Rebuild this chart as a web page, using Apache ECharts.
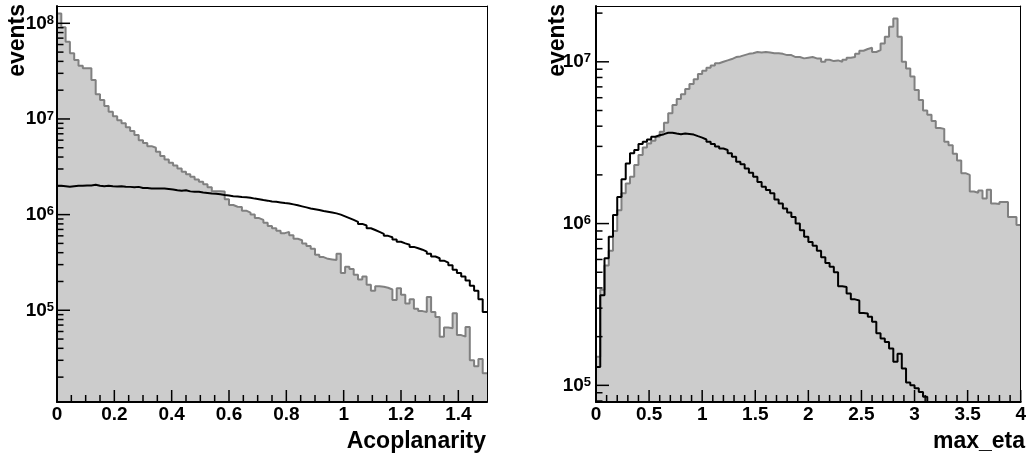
<!DOCTYPE html>
<html>
<head>
<meta charset="utf-8">
<script src="https://cdn.jsdelivr.net/npm/echarts@6.0.0/dist/echarts.min.js"></script>
<style>
html, body { margin: 0; padding: 0; background: #fff; }
#chart { width: 1029px; height: 455px; }
</style>
</head>
<body>
<div id="chart"></div>
<script>
// Acoplanarity: 100 bins from 0 to 1.5
var acoStart = 0
var acoWidth = 0.015
var acoGrey = [
	1.27e8, 9.1e7, 6.4e7, 4.85e7, 4.13e7, 3.6e7, 3.4e7, 3.38e7, 2.55e7, 1.81e7,
	1.58e7, 1.37e7, 1.19e7, 1.07e7, 9.7e6, 9.0e6, 8.2e6, 7.5e6, 6.8e6, 6.0e6,
	5.6e6, 5.2e6, 5.0e6, 4.55e6, 4.1e6, 3.78e6, 3.48e6, 3.27e6, 3.04e6, 2.8e6,
	2.65e6, 2.49e6, 2.33e6, 2.2e6, 2.08e6, 1.93e6, 1.76e6, 1.76e6, 1.74e6, 1.45e6,
	1.26e6, 1.21e6, 1.2e6, 1.1e6, 1.05e6, 1.0e6, 9.2e5, 8.8e5, 8.2e5, 7.6e5,
	7.2e5, 6.8e5, 6.4e5, 6.6e5, 6.1e5, 5.6e5, 5.4e5, 5.0e5, 4.7e5, 4.4e5,
	3.8e5, 3.6e5, 3.45e5, 3.4e5, 3.35e5, 3.9e5, 2.45e5, 2.85e5, 2.7e5, 2.35e5,
	2.1e5, 2.25e5, 1.85e5, 1.6e5, 1.78e5, 1.76e5, 1.72e5, 1.65e5, 1.28e5, 1.7e5,
	1.45e5, 1.18e5, 1.3e5, 1.04e5, 9.8e4, 9.6e4, 1.38e5, 9.6e4, 8.5e4, 5.3e4,
	6.6e4, 6.5e4, 9.3e4, 5.5e4, 5.3e4, 6.7e4, 3.0e4, 2.6e4, 3.1e4, 2.2e4
]
var acoBlack = [
	2.0e6, 1.98e6, 1.96e6, 1.98e6, 2.0e6, 2.0e6, 2.02e6, 2.02e6, 2.05e6, 2.0e6,
	1.98e6, 2.0e6, 1.98e6, 1.97e6, 1.98e6, 1.96e6, 1.95e6, 1.93e6, 1.95e6, 1.9e6,
	1.9e6, 1.88e6, 1.88e6, 1.88e6, 1.87e6, 1.85e6, 1.83e6, 1.8e6, 1.78e6, 1.8e6,
	1.75e6, 1.73e6, 1.73e6, 1.7e6, 1.68e6, 1.66e6, 1.65e6, 1.63e6, 1.6e6, 1.58e6,
	1.56e6, 1.55e6, 1.53e6, 1.52e6, 1.5e6, 1.47e6, 1.45e6, 1.42e6, 1.4e6, 1.37e6,
	1.36e6, 1.34e6, 1.32e6, 1.31e6, 1.28e6, 1.25e6, 1.22e6, 1.19e6, 1.16e6, 1.14e6,
	1.12e6, 1.09e6, 1.07e6, 1.05e6, 1.03e6, 1.0e6, 9.6e5, 9.2e5, 8.8e5, 8.4e5,
	8.0e5, 7.7e5, 7.2e5, 6.9e5, 6.6e5, 6.3e5, 6.0e5, 5.8e5, 5.5e5, 5.2e5,
	5.0e5, 4.85e5, 4.6e5, 4.45e5, 4.3e5, 4.1e5, 3.9e5, 3.65e5, 3.5e5, 3.3e5,
	3.15e5, 2.95e5, 2.65e5, 2.45e5, 2.25e5, 2.05e5, 1.8e5, 1.6e5, 1.3e5, 9.6e4
]

// max_eta: 100 bins from 0 to 4
var etaStart = 0
var etaWidth = 0.04
var etaGrey = [
	1.5e5, 3.9e5, 5.5e5, 6.8e5, 9.0e5, 1.21e6, 1.54e6, 1.77e6, 1.95e6, 2.3e6,
	2.65e6, 2.95e6, 3.13e6, 3.25e6, 3.44e6, 3.7e6, 4.2e6, 4.8e6, 5.4e6, 5.9e6,
	6.3e6, 6.8e6, 7.3e6, 7.8e6, 8.4e6, 8.8e6, 9.2e6, 9.5e6, 9.8e6, 1.0e7,
	1.02e7, 1.04e7, 1.07e7, 1.08e7, 1.1e7, 1.12e7, 1.13e7, 1.15e7, 1.14e7, 1.15e7,
	1.14e7, 1.13e7, 1.13e7, 1.12e7, 1.1e7, 1.1e7, 1.07e7, 1.07e7, 1.05e7, 1.06e7,
	1.07e7, 1.05e7, 1.05e7, 1.0e7, 1.03e7, 1.01e7, 1.02e7, 1.0e7, 1.03e7, 1.06e7,
	1.07e7, 1.12e7, 1.17e7, 1.2e7, 1.22e7, 1.15e7, 1.18e7, 1.3e7, 1.43e7, 1.65e7,
	1.85e7, 1.43e7, 1.0e7, 9.1e6, 8.1e6, 6.7e6, 5.8e6, 5.0e6, 4.7e6, 4.3e6,
	3.9e6, 3.85e6, 3.2e6, 3.05e6, 2.7e6, 2.45e6, 2.05e6, 2.0e6, 1.58e6, 1.55e6,
	1.6e6, 1.43e6, 1.62e6, 1.33e6, 1.32e6, 1.36e6, 1.36e6, 1.1e6, 1.1e6, 9.8e5
]
var etaBlack = [
	1.3e5, 3.6e5, 6.1e5, 8.3e5, 1.13e6, 1.46e6, 1.88e6, 2.35e6, 2.72e6, 2.85e6,
	3.1e6, 3.2e6, 3.31e6, 3.44e6, 3.52e6, 3.57e6, 3.64e6, 3.64e6, 3.6e6, 3.57e6,
	3.6e6, 3.58e6, 3.55e6, 3.47e6, 3.4e6, 3.31e6, 3.2e6, 3.1e6, 3.0e6, 2.91e6,
	2.85e6, 2.72e6, 2.59e6, 2.41e6, 2.33e6, 2.19e6, 2.06e6, 1.95e6, 1.81e6, 1.69e6,
	1.61e6, 1.54e6, 1.41e6, 1.33e6, 1.24e6, 1.17e6, 1.1e6, 1.0e6, 9.1e5, 8.3e5,
	7.7e5, 7.3e5, 6.8e5, 6.2e5, 5.7e5, 5.4e5, 5.0e5, 4.1e5, 4.05e5, 3.7e5,
	3.4e5, 3.35e5, 2.8e5, 2.78e5, 2.65e5, 2.47e5, 2.1e5, 1.95e5, 1.85e5, 1.69e5,
	1.4e5, 1.57e5, 1.27e5, 1.04e5, 1.0e5, 9.6e4, 9.1e4, 8.5e4, 7.5e4, null,
	null, null, null, null, null, null, null, null, null, null,
	null, null, null, null, null, null, null, null, null, null
]

// tick positions
var acoXMajor = [0, 0.2, 0.4, 0.6, 0.8, 1, 1.2, 1.4]
var acoXMinorStep = 0.05
var etaXMajor = [0, 0.5, 1, 1.5, 2, 2.5, 3, 3.5, 4]
var etaXMinorStep = 0.1
var acoDecades = [5, 6, 7, 8]
var etaDecades = [5, 6, 7]
var subDivs = [2, 3, 4, 5, 6, 7, 8, 9]

var font = '"Liberation Sans", Arial, Helvetica, sans-serif'

// histogram -> step points (left bin edges + closing right edge), y in log10
function histPoints(start, width, counts) {
	var pts = []
	for (var i = 0; i < counts.length; i++) {
		var c = counts[i]
		pts.push([start + i * width, c == null ? null : Math.log10(c)])
	}
	var last = counts[counts.length - 1]
	if (last != null) pts.push([start + counts.length * width, Math.log10(last)])
	return pts
}

function logMinor(lo, hi) {
	var out = []
	for (var d = Math.floor(lo); d < hi; d++) {
		subDivs.forEach(function(k) {
			var v = d + Math.log10(k)
			if (v > lo && v < hi) out.push(v)
		})
	}
	return out
}

function linMinor(step, max, major) {
	var out = []
	for (var i = 1; i * step < max - 1e-9; i++) {
		var v = Math.round(i * step * 1000) / 1000
		if (major.indexOf(v) < 0) out.push(v)
	}
	return out
}

function xAxes(grid, min, max, interval, showMax) {
	return [{
		type: 'value', gridIndex: grid, min: min, max: max, interval: interval,
		position: 'bottom', z: 5,
		axisLine: { show: true, onZero: false, lineStyle: { color: '#000', width: 2 } },
		axisTick: { show: false }, minorTick: { show: false },
		axisLabel: { show: true, color: '#000', fontFamily: font, fontWeight: 'bold', fontSize: 19, margin: 3, showMaxLabel: showMax },
		splitLine: { show: false }
	}, {
		type: 'value', gridIndex: grid, min: min, max: max, position: 'top', z: 5,
		axisLine: { show: true, onZero: false, lineStyle: { color: '#000', width: 1 } },
		axisTick: { show: false }, axisLabel: { show: false }, splitLine: { show: false }
	}]
}

function yAxes(grid, lo, hi, decades, margin) {
	return [{
		type: 'value', gridIndex: grid, min: lo, max: hi, position: 'left', z: 5,
		axisLine: { show: true, onZero: false, lineStyle: { color: '#000', width: 2 } },
		axisTick: { show: false },
		axisLabel: {
			show: true, customValues: decades.slice(), margin: margin,
			formatter: function(v) { return '{b|10}{s|' + Math.round(v) + '}' },
			rich: {
				b: { fontFamily: font, fontWeight: 'bold', fontSize: 19, color: '#000', lineHeight: 19, verticalAlign: 'bottom' },
				s: { fontFamily: font, fontWeight: 'bold', fontSize: 13, color: '#000', lineHeight: 13, verticalAlign: 'top', padding: [0, 0, 7, 0] }
			}
		},
		splitLine: { show: false }
	}, {
		type: 'value', gridIndex: grid, min: lo, max: hi, position: 'right', z: 5,
		axisLine: { show: true, onZero: false, lineStyle: { color: '#000', width: 1 } },
		axisTick: { show: false }, axisLabel: { show: false }, splitLine: { show: false }
	}]
}

function filled(xi, yi, pts) {
	return {
		type: 'line', xAxisIndex: xi, yAxisIndex: yi, step: 'end', symbol: 'none', z: 2,
		data: pts,
		lineStyle: { color: '#808080', width: 2 },
		areaStyle: { color: '#cccccc', opacity: 1, origin: 'start' }
	}
}

function outline(xi, yi, pts) {
	return {
		type: 'line', xAxisIndex: xi, yAxisIndex: yi, step: 'end', symbol: 'none', z: 3,
		data: pts, connectNulls: false,
		lineStyle: { color: '#000', width: 2 }
	}
}

// inward tick marks, placed through the axes (vertical = x-axis ticks)
function ticks(xi, yi, pts, len, vertical) {
	return {
		type: 'custom', xAxisIndex: xi, yAxisIndex: yi, z: 6, silent: true,
		data: pts,
		renderItem: function(params, api) {
			var p = api.coord([api.value(0), api.value(1)])
			return {
				type: 'line',
				shape: vertical
					? { x1: p[0], y1: p[1], x2: p[0], y2: p[1] - len }
					: { x1: p[0], y1: p[1], x2: p[0] + len, y2: p[1] },
				style: { stroke: '#000', lineWidth: 1.5 }
			}
		}
	}
}

function title(text, x, y, rotated) {
	return {
		type: 'text', x: x, y: y, rotation: rotated ? Math.PI / 2 : 0, z: 10,
		style: {
			text: text, fill: '#000', font: 'bold 23px ' + font,
			align: 'right', verticalAlign: 'middle'
		}
	}
}

var acoLo = 4.041, acoHi = 8.181
var etaLo = 4.897, etaHi = 7.345

function atX(x) { return function(v) { return [x, v] } }
function atY(y) { return function(v) { return [v, y] } }

var chart = echarts.init(document.getElementById('chart'))
chart.setOption({
	animation: false,
	grid: [
		{ left: 57, top: 6, width: 430, height: 396 },
		{ left: 596, top: 6, width: 430, height: 396 }
	],
	xAxis: xAxes(0, 0, 1.5, 0.2, false).concat(xAxes(1, 0, 4, 0.5, true)),
	yAxis: yAxes(0, acoLo, acoHi, acoDecades, 3).concat(yAxes(1, etaLo, etaHi, etaDecades, 5)),
	series: [
		filled(0, 0, histPoints(acoStart, acoWidth, acoGrey)),
		outline(0, 0, histPoints(acoStart, acoWidth, acoBlack)),
		filled(2, 2, histPoints(etaStart, etaWidth, etaGrey)),
		outline(2, 2, histPoints(etaStart, etaWidth, etaBlack)),
		ticks(0, 0, acoDecades.map(atX(0)), 13, false),
		ticks(0, 0, logMinor(acoLo, acoHi).map(atX(0)), 6.5, false),
		ticks(0, 0, acoXMajor.map(atY(acoLo)), 12, true),
		ticks(0, 0, linMinor(acoXMinorStep, 1.5, acoXMajor).map(atY(acoLo)), 7, true),
		ticks(2, 2, etaDecades.map(atX(0)), 13, false),
		ticks(2, 2, logMinor(etaLo, etaHi).map(atX(0)), 6.5, false),
		ticks(2, 2, etaXMajor.map(atY(etaLo)), 12, true),
		ticks(2, 2, linMinor(etaXMinorStep, 4, etaXMajor).map(atY(etaLo)), 7, true)
	],
	graphic: [
		title('events', 17.5, 4, true),
		title('events', 557.5, 4, true),
		title('Acoplanarity', 486, 442, false),
		title('max_eta', 1025, 442, false)
	]
})
</script>
</body>
</html>
